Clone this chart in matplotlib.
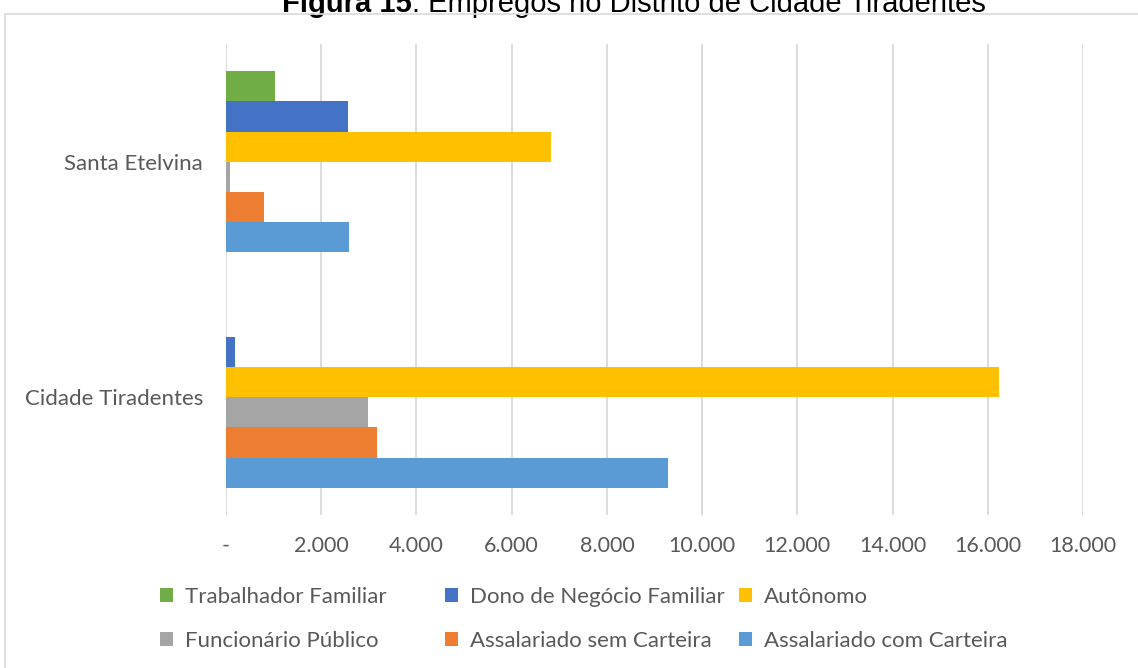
import matplotlib.pyplot as plt
from matplotlib.patches import Rectangle
from matplotlib.ticker import FuncFormatter, MultipleLocator

# distritos (de baixo para cima no gráfico)
distritos = ['Cidade Tiradentes', 'Santa Etelvina']

# séries na ordem de desenho (primeira fica embaixo em cada grupo)
series = ['Assalariado com Carteira', 'Assalariado sem Carteira', 'Funcionário Público',
          'Autônomo', 'Dono de Negócio Familiar', 'Trabalhador Familiar']
assalariado_com = [9290, 2585]
assalariado_sem = [3175, 800]
funcionario = [2985, 85]
autonomo = [16240, 6830]
dono_negocio = [190, 2565]
trabalhador_fam = [0, 1030]
valores = [assalariado_com, assalariado_sem, funcionario, autonomo, dono_negocio, trabalhador_fam]
cores = ['#5B9BD5', '#ED7D31', '#A5A5A5', '#FFC000', '#4472C4', '#70AD47']

texto_cor = '#595959'
fonte = 'Lato'
W, H = 1138, 668

fig = plt.figure(figsize=(W / 100, H / 100), dpi=100)

# moldura da área do gráfico
fig.patches.append(Rectangle((5 / W, -0.05), 1.1, 1 - 14 / H + 0.05,
                             transform=fig.transFigure, fill=False,
                             edgecolor='#D9D9D9', linewidth=1.2))

# título (Figura 15 em negrito), encostado na borda superior
t1 = fig.text(282 / W, 1 - 12 / H, 'Figura 15', fontsize=21, fontweight='bold',
              family='Liberation Sans', va='baseline', ha='left', zorder=0)
fig.canvas.draw()
bb = t1.get_window_extent()
fig.text(bb.x1 / W, 1 - 12 / H, ': Empregos no Distrito de Cidade Tiradentes',
         fontsize=21, family='Liberation Sans', va='baseline', ha='left', zorder=0)

ax = fig.add_axes([226 / W, 153 / H, 857 / W, 471 / H])

n = len(series)
altura = 0.128
handles = []
for i, (nome, vals, cor) in enumerate(zip(series, valores, cores)):
    pos = [k + (i - (n - 1) / 2) * altura for k in range(len(distritos))]
    h = ax.barh(pos, vals, height=altura, color=cor, label=nome, zorder=3)
    handles.append(h)

ax.set_xlim(0, 18000)
ax.set_ylim(-0.5, 1.5)
ax.xaxis.set_major_locator(MultipleLocator(2000))
ax.xaxis.set_major_formatter(FuncFormatter(
    lambda v, p: '-' if v == 0 else f'{int(v):,}'.replace(',', '.')))
ax.set_yticks(range(len(distritos)))
ax.set_yticklabels(distritos)
ax.grid(axis='x', color='#D9D9D9', linewidth=1.3, zorder=0)
for s in ax.spines.values():
    s.set_visible(False)
ax.tick_params(length=0, labelcolor=texto_cor)
ax.tick_params(axis='x', pad=15, labelsize=15.5)
ax.tick_params(axis='y', pad=16.5, labelsize=16)
for lbl in ax.get_xticklabels() + ax.get_yticklabels():
    lbl.set_family(fonte)

# legenda: três colunas com duas linhas cada
colunas = [(160, [5, 2]), (445, [4, 1]), (739, [3, 0])]
for x0, idx in colunas:
    leg = fig.legend([handles[k] for k in idx], [series[k] for k in idx],
                     loc='center left', bbox_to_anchor=(x0 / W, 1 - 619 / H),
                     frameon=False, borderaxespad=0, borderpad=0,
                     handlelength=0.58, handleheight=0.58, handletextpad=0.55,
                     labelspacing=1.07, prop={'family': fonte, 'size': 16})
    for txt in leg.get_texts():
        txt.set_color(texto_cor)

fig.savefig('out.png', dpi=100)
